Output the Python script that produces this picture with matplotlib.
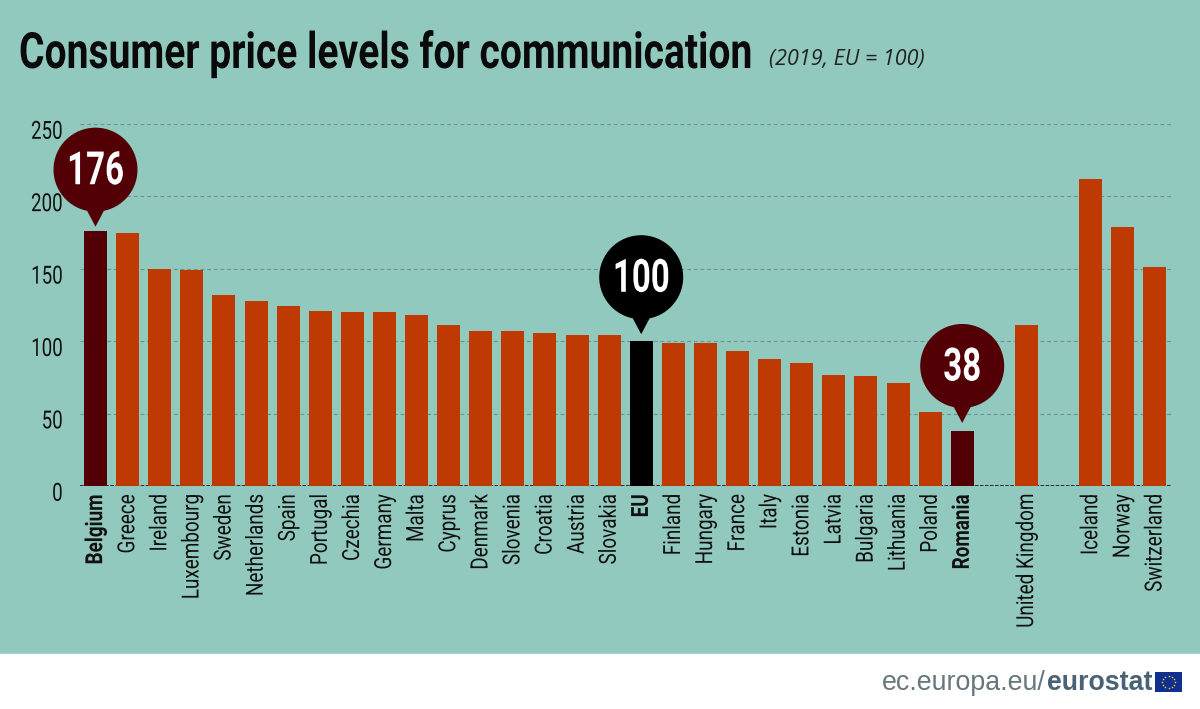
import numpy as np
import matplotlib
matplotlib.use("Agg")
import matplotlib.pyplot as plt
import matplotlib.patheffects as pe
from matplotlib.patches import Ellipse, Polygon, Rectangle
from matplotlib.transforms import Affine2D, ScaledTranslation

group1 = ["Belgium","Greece","Ireland","Luxembourg","Sweden","Netherlands","Spain","Portugal","Czechia","Germany","Malta","Cyprus","Denmark","Slovenia","Croatia","Austria","Slovakia","EU","Finland","Hungary","France","Italy","Estonia","Latvia","Bulgaria","Lithuania","Poland","Romania"]
values1 = [176,175,150,149,132,128,124,121,120,120,118,111,107,107,106,104,104,100,99,99,93,88,85,77,76,71,51,38]
group2 = ["United Kingdom"]
values2 = [111]
group3 = ["Iceland","Norway","Switzerland"]
values3 = [212,179,151]
yticks = [0,50,100,150,200,250]
highlight = {"Belgium":"#520006","Romania":"#520006","EU":"#000000"}
tip_gap = {"Belgium":4.5,"Romania":8,"EU":7}

FONT = "Roboto"
BG = "#92C9BE"; BAR = "#BF3A02"
W, H = 1200, 709
CAP = 71  # Roboto cap height in text-path units (em = 100)


class Tall(pe.AbstractPathEffect):
    """Draw a text taller than its font size, so it looks condensed (no condensed font is installed)."""
    def __init__(self, sy, keep_center=True):
        super().__init__()
        self.sy, self.keep_center = sy, keep_center
    def draw_path(self, renderer, gc, tpath, affine, rgbFace=None):
        dy = -(self.sy-1)*CAP/2 if self.keep_center else 0
        local = Affine2D().scale(1, self.sy).translate(0, dy)
        renderer.draw_path(gc, tpath, local + affine, rgbFace)


fig = plt.figure(figsize=(12, 7.09), dpi=100, facecolor=BG)
fig.add_artist(Rectangle((0,0),1,55/H,transform=fig.transFigure,color="white",zorder=0))

L,R,T,B = 80,1172,124,486
ax = fig.add_axes([L/W, 1-B/H, (R-L)/W, (B-T)/H], facecolor="none")
sp = 32.1
ax.set_xlim((L-95.5)/sp, (R-95.5)/sp)
ax.set_ylim(0,250)

cats = group1+group2+group3
vals = values1+values2+values3
pos = list(range(len(group1)))+[len(group1)+1]+[len(group1)+3+i for i in range(len(group3))]
cols = [highlight.get(c,BAR) for c in cats]
ax.bar(pos, vals, width=23/sp, color=cols, zorder=3)

ax.set_yticks(yticks)
ax.set_yticklabels([str(v) for v in yticks], fontsize=13.5, family=FONT, color="#111111")
ax.set_xticks(pos)
ax.set_xticklabels(cats, rotation=90, fontsize=13.6, family=FONT, color="#111111")
ax.tick_params(length=0)
ax.tick_params(axis="y", pad=12.5)
ax.tick_params(axis="x", pad=6)
for lab in ax.get_xticklabels():
    if lab.get_text() in highlight:
        lab.set_fontweight("bold")
    lab.set_path_effects([Tall(1.25)])
for lab in ax.get_yticklabels():
    lab.set_path_effects([Tall(1.333)])
    lab.set_transform(lab.get_transform() + ScaledTranslation(0, -4/72, fig.dpi_scale_trans))
ax.set_axisbelow(True)
ax.grid(axis="y", color="#6a968c", ls=(0,(3.5,2.5)), lw=0.8, zorder=1)
ax.grid(axis="x", visible=False)
for s in ax.spines.values():
    s.set_visible(False)
ax.axhline(0, color="#222222", lw=1.3, ls=(0,(2,0.8)), zorder=2)

px = 1/sp; py = 250/(B-T)
def bubble(i, v, color, gap, rad=42):
    tip = v + gap*py
    cy = tip + 57*py
    ax.add_patch(Ellipse((i,cy), 2*rad*px, 2*rad*py, color=color, zorder=5, lw=0, clip_on=False))
    ax.add_patch(Polygon([(i-9*px, tip+17*py),(i+9*px, tip+17*py),(i, tip)], color=color, zorder=5, lw=0, clip_on=False))
    t = ax.text(i, cy-1*py, str(v), color="white", fontsize=23.8, family=FONT, fontweight="bold",
                ha="center", va="center", zorder=6, clip_on=False)
    t.set_path_effects([Tall(1.39)])
for c in highlight:
    i = cats.index(c)
    bubble(pos[i], vals[i], highlight[c], tip_gap[c])

title = fig.text(19/W, 1-68/H, "Consumer price levels for communication", fontsize=28.1, fontweight="bold",
                 family=FONT, color="#0a0a0a", va="baseline", ha="left")
title.set_path_effects([Tall(1.28, keep_center=False)])
fig.text(769/W, 1-59.5/H, "(2019, EU = 100)", fontsize=15.5, style="italic", family="Open Sans",
         color="#222222", va="center", ha="left")

t2 = fig.text(1152/W, 1-683/H, "eurostat", fontsize=19.3, fontweight="bold", family="Liberation Sans",
              color="#4a6274", va="center", ha="right")
fig.canvas.draw()
bb = t2.get_window_extent()
fig.text((bb.x0-0.5)/W, 1-683/H, "ec.europa.eu/", fontsize=19.3, family="Liberation Sans",
         color="#66777f", va="center", ha="right")
fl = fig.add_axes([1155/W, 1-692/H, 27/W, 20/H], facecolor="#10308f")
fl.set_xlim(-1.35,1.35); fl.set_ylim(-1,1); fl.axis("off")
fl.add_patch(Rectangle((-1.35,-1),2.7,2,color="#10308f"))
ang = np.linspace(0,2*np.pi,12,endpoint=False)
fl.scatter(0.62*np.cos(ang),0.62*np.sin(ang),s=1.2,color="#ffd617",lw=0)

fig.savefig("out.png", dpi=100, facecolor=BG)
